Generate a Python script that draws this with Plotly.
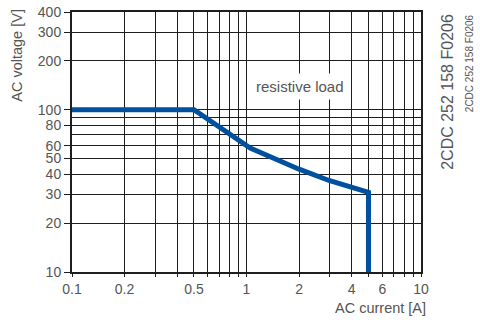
import plotly.graph_objects as go

# rating curve, resistive load
current_a = [0.1, 0.5, 1.05, 2, 3, 5, 5]
voltage_v = [100, 100, 58, 43, 36.5, 31, 10]

x_labels = [0.1, 0.2, 0.5, 1, 2, 4, 6, 10]
x_grid = [0.3, 0.4, 0.6, 0.7, 0.8, 0.9, 3, 5, 7, 8, 9]
y_labels = [10, 20, 30, 40, 50, 60, 80, 100, 200, 300, 400]
y_grid = [70, 90]

doc_id = "2CDC 252 158 F0206"
text_col = "#555555"
grid_col = "#1e1e1e"
font = "Liberation Sans, Arial, sans-serif"

fig = go.Figure()

fig.add_trace(go.Scatter(
    x=current_a, y=voltage_v, mode="lines",
    line=dict(color="#0050a0", width=5),
    showlegend=False, hoverinfo="skip",
))

fig.add_annotation(
    x=0.307, y=2.146, xref="x", yref="y", text="resistive load",
    showarrow=False, bgcolor="white", borderpad=4,
    font=dict(size=15, color=text_col, family=font),
)

fig.add_annotation(
    x=-0.158, y=0.835, xref="paper", yref="paper", text="AC voltage [V]",
    textangle=-90, showarrow=False, xanchor="center", yanchor="middle",
    font=dict(size=14.5, color=text_col, family=font),
)
fig.add_annotation(
    x=1.02, y=-0.1, xref="paper", yref="paper", text="AC current [A]",
    showarrow=False, xanchor="right", yanchor="top",
    font=dict(size=14.5, color=text_col, family=font),
)
fig.add_annotation(
    x=1.074, y=1.0, xref="paper", yref="paper", text=doc_id,
    textangle=-90, showarrow=False, xanchor="center", yanchor="top",
    font=dict(size=16, color=text_col, family=font),
)
fig.add_annotation(
    x=1.138, y=1.0, xref="paper", yref="paper", text=doc_id,
    textangle=-90, showarrow=False, xanchor="center", yanchor="top",
    font=dict(size=10, color=text_col, family=font),
)

fig.update_xaxes(
    type="log", range=[-1, 1], automargin=False,
    tickvals=x_labels, ticktext=[str(v) for v in x_labels],
    ticks="outside", ticklen=3, tickcolor=grid_col, tickwidth=1,
    showgrid=True, gridcolor=grid_col, gridwidth=1,
    minor=dict(tickvals=x_grid, showgrid=True, gridcolor=grid_col, gridwidth=1,
               ticks="outside", ticklen=3, tickcolor=grid_col),
    showline=True, linecolor=grid_col, linewidth=2, mirror=True,
    tickfont=dict(size=14, color=text_col, family=font),
    ticklabeloverflow="allow", zeroline=False,
)
fig.update_yaxes(
    type="log", range=[1, 2.60206], automargin=False,
    tickvals=y_labels, ticktext=[str(v) for v in y_labels],
    ticks="outside", ticklen=6, tickcolor=grid_col, tickwidth=1,
    showgrid=True, gridcolor=grid_col, gridwidth=1,
    minor=dict(tickvals=y_grid, showgrid=True, gridcolor=grid_col, gridwidth=1),
    showline=True, linecolor=grid_col, linewidth=2, mirror=True,
    tickfont=dict(size=14, color=text_col, family=font),
    ticklabeloverflow="allow", zeroline=False,
)

fig.update_layout(
    width=480, height=322,
    margin=dict(l=72, r=59, t=12, b=50),
    paper_bgcolor="white", plot_bgcolor="white",
)

# drop the default 8px page margin so the figure sits at the window corner
fig.write_html(
    "out.html",
    config={"displayModeBar": False, "staticPlot": True},
    post_script="document.body.style.margin='0';",
)
